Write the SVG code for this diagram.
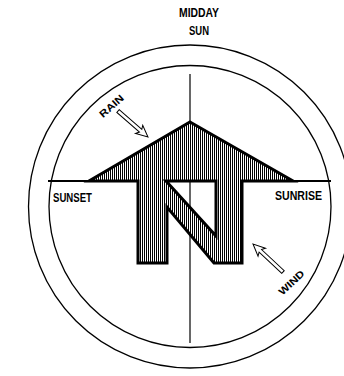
<svg xmlns="http://www.w3.org/2000/svg" width="344" height="376" viewBox="0 0 344 376">
<style>
.ln{fill:none;stroke:#000}
.lbl{font-family:"Liberation Sans",Arial,sans-serif;font-weight:bold;fill:#000}
.hollow{fill:#fff;stroke:#000;stroke-width:1;stroke-linejoin:miter}
</style>
<defs>
<pattern id="hatch" width="2" height="4" patternUnits="userSpaceOnUse">
<rect width="2" height="4" fill="#fff"/>
<rect width="1" height="4" fill="#000"/>
</pattern>
</defs>
<rect width="344" height="376" fill="#fff"/>
<g id="compass-rings">
<circle class="ln" cx="190" cy="206.5" r="161.5" stroke-width="1.3"/>
<circle class="ln" cx="190" cy="206.5" r="141" stroke-width="1.3"/>
</g>
<g id="axes">
<line class="ln" x1="190" y1="74" x2="190" y2="343" stroke-width="1.2"/>
<line class="ln" x1="48" y1="181" x2="331" y2="181" stroke-width="2"/>
</g>
<g id="north-arrow">
<path d="M190,122 L293,181 L242,181 L242,263 L214,263 L167,207 L167,263 L138,263 L138,181 L89,181 Z M166,181 L216,181 L216,236 Z" fill="url(#hatch)" fill-rule="evenodd" stroke="#000" stroke-width="3" stroke-linejoin="miter"/>
</g>
<g id="labels">
<text class="lbl" x="179" y="17" font-size="12" textLength="40" lengthAdjust="spacingAndGlyphs">MIDDAY</text>
<text class="lbl" x="189" y="35" font-size="12" textLength="20" lengthAdjust="spacingAndGlyphs">SUN</text>
<text class="lbl" x="53" y="202" font-size="12" textLength="39" lengthAdjust="spacingAndGlyphs">SUNSET</text>
<text class="lbl" x="275" y="200" font-size="12" textLength="47" lengthAdjust="spacingAndGlyphs">SUNRISE</text>
</g>
<g id="rain">
<path class="hollow" transform="translate(118,111) rotate(41)" d="M0,-1.8 L30,-1.8 L28,-5.5 L39.7,0 L28,5.5 L30,1.8 L0,1.8 Z"/>
<text class="lbl" transform="translate(111.5,106) rotate(-42)" x="-14.5" y="3.5" font-size="10" textLength="29" lengthAdjust="spacingAndGlyphs">RAIN</text>
</g>
<g id="wind">
<path class="hollow" transform="translate(283,272) rotate(223)" d="M0,-1.8 L31,-1.8 L29,-5.5 L41,0 L29,5.5 L31,1.8 L0,1.8 Z"/>
<text class="lbl" transform="translate(291.5,282.5) rotate(-43)" x="-15.5" y="3.5" font-size="10" textLength="31" lengthAdjust="spacingAndGlyphs" font-family="Liberation Serif, serif">WIND</text>
</g>
</svg>
